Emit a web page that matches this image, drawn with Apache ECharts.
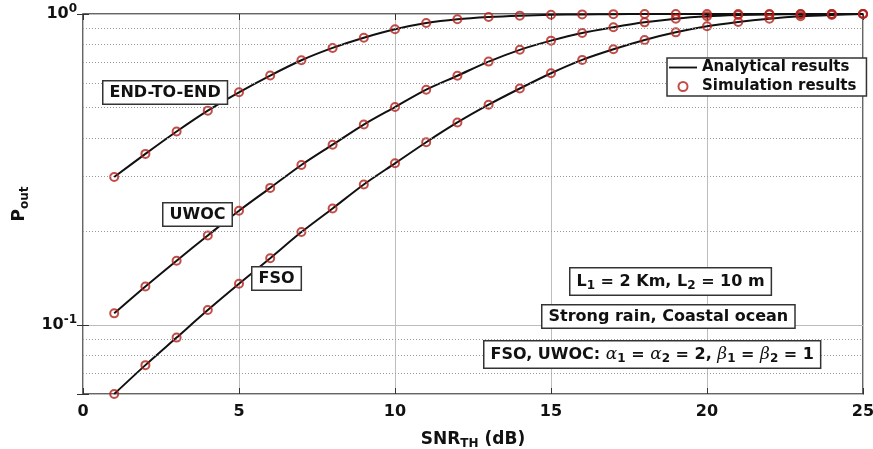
<!DOCTYPE html>
<html>
<head>
<meta charset="utf-8">
<script src="https://cdn.jsdelivr.net/npm/echarts@6/dist/echarts.min.js"></script>
<style>
  html, body { margin: 0; padding: 0; background: #fff; }
  #chart { width: 873px; height: 449px; }
</style>
</head>
<body>
<div id="chart"></div>
<script>
const snr = [1, 2, 3, 4, 5, 6, 7, 8, 9, 10, 11, 12, 13, 14, 15, 16, 17, 18, 19, 20, 21, 22, 23, 24, 25]

const endToEnd = [0.299, 0.355, 0.419, 0.489, 0.560, 0.634, 0.710, 0.778, 0.839, 0.893, 0.935, 0.962, 0.978,
  0.988, 0.994, 0.997, 0.999, 1, 1, 1, 1, 1, 1, 1, 1]
const uwoc = [0.109, 0.133, 0.161, 0.194, 0.233, 0.276, 0.327, 0.380, 0.441, 0.502, 0.571, 0.633, 0.703,
  0.767, 0.821, 0.869, 0.906, 0.940, 0.966, 0.983, 0.992, 0.997, 0.999, 1, 1]
const fso = [0.060, 0.0743, 0.0911, 0.1117, 0.1357, 0.164, 0.199, 0.237, 0.283, 0.331, 0.387, 0.448, 0.511,
  0.576, 0.645, 0.712, 0.770, 0.825, 0.873, 0.913, 0.943, 0.966, 0.983, 0.993, 1]

const minorGrid = [0.07, 0.08, 0.09, 0.2, 0.3, 0.4, 0.5, 0.6, 0.7, 0.8, 0.9]

const font = 'DejaVu Sans'
const red = '#b3201a'

const toPairs = values => values.map((v, i) => [snr[i], v])

const lineSeries = values => ({
  name: 'Analytical results',
  type: 'line',
  smooth: 0.3,
  symbol: 'none',
  lineStyle: { color: '#111', width: 2 },
  itemStyle: { color: '#111' },
  data: toPairs(values),
  z: 3
})

const markerSeries = values => ({
  name: 'Simulation results',
  type: 'scatter',
  symbol: 'circle',
  symbolSize: 8,
  clip: false,
  itemStyle: { color: 'transparent', borderColor: red, borderWidth: 2 },
  data: toPairs(values),
  z: 4
})

const boxText = (text, left, top, rich) => ({
  type: 'text',
  left: left,
  top: top,
  z: 10,
  style: {
    text: text,
    font: 'bold 16px "' + font + '"',
    fill: '#111',
    backgroundColor: '#fff',
    borderColor: '#333',
    borderWidth: 1.5,
    padding: [3, 6, 3, 6],
    rich: rich || {}
  }
})

const subRich = {
  s: { fontFamily: font, fontWeight: 'bold', fontSize: 12, padding: [8, 0, 0, 0] },
  g: { fontFamily: 'DejaVu Serif', fontStyle: 'italic', fontSize: 17 }
}

const chart = echarts.init(document.getElementById('chart'))

chart.setOption({
  animation: false,
  grid: {
    left: 83,
    right: 10,
    top: 14,
    bottom: 55,
    outerBoundsMode: 'none',
    show: true,
    borderColor: '#333',
    borderWidth: 1.5,
    backgroundColor: 'transparent'
  },
  legend: {
    left: 667,
    top: 58,
    orient: 'vertical',
    itemGap: 2,
    itemWidth: 28,
    itemHeight: 9,
    padding: [1, 10, 1, 2],
    backgroundColor: '#fff',
    borderColor: '#333',
    borderWidth: 1.5,
    textStyle: { fontFamily: font, fontWeight: 'bold', fontSize: 15, lineHeight: 17, color: '#111' },
    data: [
      { name: 'Analytical results', icon: 'path://M0,4 L30,4 L30,6 L0,6 Z' },
      { name: 'Simulation results' }
    ],
    z: 10
  },
  xAxis: [
    {
      type: 'value',
      min: 0,
      max: 25,
      interval: 5,
      name: '{a|SNR}{b|TH}{a| (dB)}',
      nameLocation: 'middle',
      nameGap: 35,
      nameTextStyle: {
        rich: {
          a: { fontFamily: font, fontWeight: 'bold', fontSize: 17, color: '#111' },
          b: { fontFamily: font, fontWeight: 'bold', fontSize: 12, color: '#111', padding: [9, 0, 0, 0] }
        }
      },
      axisLine: { show: false },
      axisTick: { inside: true, length: 6, lineStyle: { color: '#333' } },
      axisLabel: { fontFamily: font, fontWeight: 'bold', fontSize: 16, color: '#111', margin: 10 },
      splitLine: { show: true, lineStyle: { color: '#bdbdbd', width: 1 } }
    },
    {
      type: 'value',
      position: 'top',
      min: 0,
      max: 25,
      interval: 5,
      axisLine: { show: false },
      axisTick: { inside: true, length: 6, lineStyle: { color: '#333' } },
      axisLabel: { show: false },
      splitLine: { show: false }
    }
  ],
  yAxis: [
    {
      type: 'log',
      logBase: 10,
      min: 0.06,
      max: 1,
      name: '{a|P}{b|out}',
      nameLocation: 'middle',
      nameRotate: 90,
      nameGap: 52,
      nameTextStyle: {
        rich: {
          a: { fontFamily: font, fontWeight: 'bold', fontSize: 17, color: '#111' },
          b: { fontFamily: font, fontWeight: 'bold', fontSize: 12, color: '#111', padding: [9, 0, 0, 0] }
        }
      },
      axisLine: { show: false },
      axisTick: { inside: true, length: 6, lineStyle: { color: '#333' } },
      axisLabel: {
        margin: 6,
        formatter: value => {
          const e = Math.log10(value)
          if (Math.abs(e - Math.round(e)) > 1e-6) return ''
          return '{b|10}{s|' + Math.round(e) + '}'
        },
        rich: {
          b: { fontFamily: font, fontWeight: 'bold', fontSize: 16, color: '#111' },
          s: { fontFamily: font, fontWeight: 'bold', fontSize: 12, color: '#111', padding: [0, 0, 10, 0] }
        }
      },
      splitLine: { show: true, lineStyle: { color: '#bdbdbd', width: 1 } }
    },
    {
      type: 'log',
      logBase: 10,
      min: 0.06,
      max: 1,
      position: 'right',
      axisLine: { show: false },
      axisTick: { inside: true, length: 6, lineStyle: { color: '#333' } },
      axisLabel: { show: false },
      splitLine: { show: false }
    }
  ],
  series: [
    {
      name: 'grid',
      type: 'line',
      data: [],
      silent: true,
      markLine: {
        silent: true,
        symbol: 'none',
        label: { show: false },
        lineStyle: { color: '#9a9a9a', type: [1, 2], width: 1 },
        data: minorGrid.map(v => ({ yAxis: v }))
      },
      z: 1
    },
    lineSeries(endToEnd),
    lineSeries(uwoc),
    lineSeries(fso),
    markerSeries(endToEnd),
    markerSeries(uwoc),
    markerSeries(fso)
  ],
  graphic: [
    boxText('END-TO-END', 102, 80),
    boxText('UWOC', 162, 202),
    boxText('FSO', 251, 266),
    boxText('L{s|1} = 2 Km, L{s|2} = 10 m', 569, 267, subRich),
    boxText('Strong rain, Coastal ocean', 541, 304),
    boxText('FSO, UWOC: {g|α}{s|1} = {g|α}{s|2} = 2, {g|β}{s|1} = {g|β}{s|2} = 1', 483, 340, subRich)
  ]
})
</script>
</body>
</html>
